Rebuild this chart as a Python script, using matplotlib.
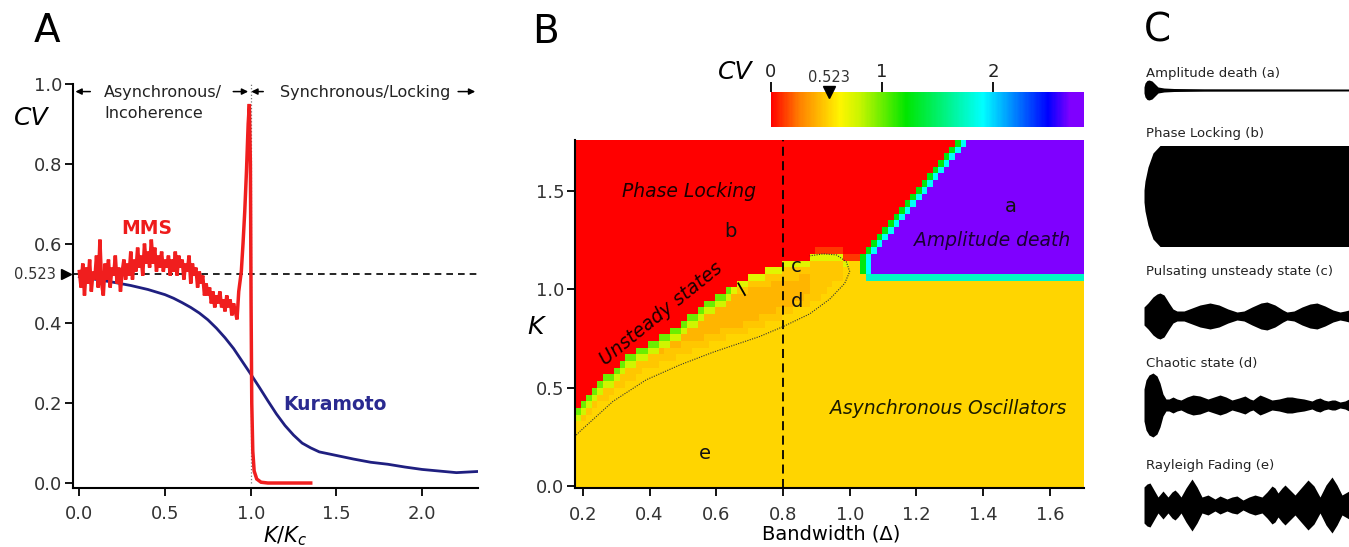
import numpy as np
import matplotlib
matplotlib.use('Agg')
import matplotlib.pyplot as plt
from matplotlib.colors import LinearSegmentedColormap, Normalize
from matplotlib.cm import ScalarMappable

plt.rcParams['font.family'] = ['DejaVu Sans']
plt.rcParams['mathtext.fontset'] = 'dejavusans'

W, H = 1349, 547

## Panel A data
mms_x = np.round(np.arange(0, 0.935, 0.01), 2).tolist() + [0.945, 0.955, 0.965, 0.975, 0.985, 0.992,
                                                          0.998, 1.002, 1.006, 1.012, 1.02, 1.035,
                                                          1.06, 1.1, 1.35]
mms_y = [0.53, 0.49, 0.55, 0.47, 0.54, 0.50, 0.56, 0.48, 0.53, 0.51,
         0.57, 0.49, 0.61, 0.50, 0.47, 0.55, 0.51, 0.56, 0.49, 0.54,
         0.52, 0.57, 0.50, 0.54, 0.48, 0.53, 0.56, 0.51, 0.55, 0.52,
         0.58, 0.51, 0.56, 0.53, 0.59, 0.54, 0.57, 0.52, 0.60, 0.55,
         0.58, 0.54, 0.61, 0.55, 0.59, 0.53, 0.57, 0.54, 0.58, 0.53,
         0.56, 0.54, 0.57, 0.52, 0.56, 0.53, 0.58, 0.52, 0.57, 0.54,
         0.56, 0.51, 0.55, 0.53, 0.57, 0.50, 0.55, 0.52, 0.54, 0.49,
         0.53, 0.50, 0.52, 0.47, 0.50, 0.47, 0.49, 0.45, 0.48, 0.44,
         0.47, 0.45, 0.48, 0.44, 0.46, 0.43, 0.47, 0.44, 0.46, 0.42,
         0.45, 0.43, 0.41, 0.48,
         0.53, 0.60, 0.68, 0.78, 0.90, 0.95, 0.80, 0.45, 0.20, 0.08,
         0.03, 0.01, 0.002, 0.0, 0.0]

kura_x = [0.0, 0.1, 0.2, 0.3, 0.4, 0.5, 0.55, 0.6, 0.65, 0.7, 0.75, 0.8, 0.85, 0.9,
          0.95, 1.0, 1.05, 1.1, 1.15, 1.2, 1.25, 1.3, 1.35, 1.4, 1.5, 1.6, 1.7, 1.8,
          1.9, 2.0, 2.1, 2.2, 2.33]
kura_y = [0.517, 0.51, 0.503, 0.495, 0.485, 0.472, 0.463, 0.452, 0.44, 0.426, 0.409,
          0.388, 0.364, 0.337, 0.305, 0.273, 0.24, 0.206, 0.173, 0.144, 0.12, 0.10,
          0.088, 0.078, 0.069, 0.06, 0.052, 0.047, 0.04, 0.034, 0.03, 0.026, 0.029]
cv_rayleigh = 0.523

lock_x = [0.175, 0.24, 0.34, 0.48, 0.59, 0.70, 0.80, 0.88, 0.95, 1.00, 1.045]
lock_k = [0.39, 0.51, 0.66, 0.81, 0.96, 1.06, 1.13, 1.165, 1.175, 1.15, 1.12]
death_bx = [1.045, 1.70]
death_bk = [1.09, 1.09]
diag_k = [1.08, 1.16, 1.76]
diag_x = [1.045, 1.045, 1.34]
ell_lo_x = [0.175, 0.19, 0.29, 0.39, 0.49, 0.59, 0.73, 0.80, 0.88, 0.94, 0.985, 1.0]
ell_lo_k = [0.25, 0.276, 0.43, 0.54, 0.615, 0.68, 0.76, 0.81, 0.875, 0.95, 1.03, 1.09]
ell_top_x = [1.0, 0.99, 0.96, 0.92, 0.88]
ell_top_k = [1.09, 1.14, 1.175, 1.18, 1.17]
core_x = [0.40, 0.50, 0.60, 0.70, 0.80, 0.88]
core_lo = [0.66, 0.72, 0.78, 0.84, 0.90, 0.98]
core_hi = [0.76, 0.86, 0.94, 1.00, 1.04, 1.08]
cv_lock, cv_band, cv_core, cv_death = 0.0, 0.48, 0.42, 2.82

cv_stops = [0.0, 0.26, 0.62, 0.80, 1.22, 1.91, 2.50, 2.70, 2.82]
cv_colors = ['#ff0000', '#ff8200', '#fff500', '#c8f500', '#00e600', '#00ffff',
             '#0000ff', '#7f00ff', '#7f00ff']

## Panel C envelopes (time, half amplitude)
a_t = [0, 1, 3, 5, 8, 11, 14, 20, 30, 60, 205]
a_amp = [3, 7, 9.5, 10, 9, 6, 3, 2, 1.5, 1.2, 1.0]
b_t = [0, 1, 4, 9, 16, 205]
b_amp = [6, 15, 29, 43, 50.5, 50.5]
c_t = [0, 4, 9, 13, 16, 20, 25, 29, 33, 40, 48, 56, 66, 75, 84, 93, 100, 108, 117,
       123, 131, 139, 143, 150, 158, 166, 173, 181, 189, 196, 201, 205]
c_amp = [9, 13, 19, 22, 23, 21, 13, 7, 5, 5, 8, 11, 13, 11, 7, 4, 5, 9, 13, 14, 11, 6,
         4, 5, 9, 12, 13, 10, 6, 4, 5, 6]
d_t = [0, 2, 5, 9, 13, 16, 19, 22, 25, 29, 33, 37, 43, 49, 56, 64, 70, 76, 82, 88, 95,
       101, 106, 109, 113, 116, 121, 128, 135, 143, 148, 153, 160, 168, 172, 176, 180,
       184, 188, 191, 196, 201, 205]
d_amp = [16, 25, 30, 32, 29, 22, 11, 6, 6, 8, 6, 5, 8, 10, 9, 6, 8, 10, 8, 5, 7, 9, 6,
         5, 8, 10, 8, 5, 6, 8, 8, 7, 6, 4, 6, 7, 5, 4, 5, 5, 3, 4, 6]
e_t = [0, 3, 6, 10, 14, 19, 24, 28, 31, 34, 37, 42, 48, 53, 58, 64, 71, 76, 83, 88, 93,
       99, 105, 111, 118, 123, 128, 131, 134, 138, 141, 146, 151, 157, 164, 170, 176,
       182, 188, 193, 198, 205]
e_amp = [18, 21, 22, 15, 8, 14, 8, 13, 15, 12, 8, 17, 26, 18, 8, 10, 6, 9, 6, 8, 9, 5,
         8, 10, 8, 13, 19, 17, 12, 17, 20, 15, 10, 17, 25, 19, 8, 20, 28, 20, 10, 14]
traces = [('Amplitude death (a)', a_t, a_amp),
          ('Phase Locking (b)', b_t, b_amp),
          ('Pulsating unsteady state (c)', c_t, c_amp),
          ('Chaotic state (d)', d_t, d_amp),
          ('Rayleigh Fading (e)', e_t, e_amp)]


def px_box(x0, y0, x1, y1):
    return [x0 / W, 1 - y1 / H, (x1 - x0) / W, (y1 - y0) / H]


def ftext(x, y, s, **kw):
    kw.setdefault('ha', 'center')
    kw.setdefault('va', 'center')
    fig.text(x / W, 1 - y / H, s, **kw)


def style_axis(ax):
    for side in ['top', 'right']:
        ax.spines[side].set_visible(False)
    for side in ['left', 'bottom']:
        ax.spines[side].set_linewidth(1.5)
    ax.tick_params(direction='out', length=5.5, width=1.3, labelsize=13,
                   labelcolor='#333333')
    ax.tick_params(axis='x', pad=7)
    ax.tick_params(axis='y', pad=2)


fig = plt.figure(figsize=(W / 100, H / 100), dpi=100)

## A
axA = fig.add_axes(px_box(73, 84, 478, 488))
axA.set_xlim(-0.037, 2.326)
axA.set_ylim(-0.0125, 1.0)
style_axis(axA)
axA.set_xticks([0, 0.5, 1.0, 1.5, 2.0])
axA.set_xticklabels(['0.0', '0.5', '1.0', '1.5', '2.0'])
axA.set_yticks([0, 0.2, 0.4, 0.6, 0.8, 1.0])
axA.set_yticklabels(['0.0', '0.2', '0.4', '0.6', '0.8', '1.0'])

axA.plot([1, 1], [0, 1], ls=':', color='#777777', lw=0.9)
axA.axhline(cv_rayleigh, ls=(0, (4, 3)), color='k', lw=1.2)
axA.plot(kura_x, kura_y, color='#1f1f80', lw=2)
axA.plot(mms_x, mms_y, color='#f01e1e', lw=2.5, solid_joinstyle='miter')
axA.plot(-0.076, cv_rayleigh, marker='>', color='k', ms=7, clip_on=False)
axA.text(-0.257, cv_rayleigh, '0.523', fontsize=10.5, color='#333333',
         ha='center', va='center', clip_on=False)
axA.text(0.394, 0.637, 'MMS', color='#ee1c1c', fontsize=13.5, fontweight='bold',
         ha='center', va='center')
axA.text(1.49, 0.198, 'Kuramoto', color='#2a2a90', fontsize=13.5, fontweight='bold',
         ha='center', va='center')

arrow_kw = dict(arrowstyle='-|>', color='k', lw=1.1, mutation_scale=9,
                shrinkA=0, shrinkB=0)
y_arr = 0.981
for tail, tip in [(0.064, -0.023), (0.898, 0.985), (1.073, 1.003), (2.21, 2.31)]:
    axA.annotate('', xy=(tip, y_arr), xytext=(tail, y_arr), arrowprops=arrow_kw,
                 annotation_clip=False)
ftext(104, 92, 'Asynchronous/', fontsize=11.5, ha='left', color='#222222')
ftext(104, 113, 'Incoherence', fontsize=11.5, ha='left', color='#222222')
ftext(280, 92, 'Synchronous/Locking', fontsize=11.5, ha='left', color='#222222')

ftext(31, 118, 'CV', fontsize=18, style='italic')
ftext(285, 536, r'$K/K_c$', fontsize=15)
ftext(47, 31, 'A', fontsize=28)

## B
cmap = LinearSegmentedColormap.from_list(
    'cvmap', [(s / cv_stops[-1], c) for s, c in zip(cv_stops, cv_colors)])

x_edges = np.linspace(0.1763, 1.7014, 92)
k_edges = np.linspace(-0.0117, 1.759, 53)
dx = x_edges[1] - x_edges[0]
dk = k_edges[1] - k_edges[0]
X, K = np.meshgrid(0.5 * (x_edges[1:] + x_edges[:-1]), 0.5 * (k_edges[1:] + k_edges[:-1]))

db = np.interp(X, death_bx, death_bk)
upper = np.where(X < death_bx[0], np.interp(X, lock_x, lock_k), db)
ell = np.interp(X, ell_lo_x, ell_lo_k)
cv = np.full(X.shape, cv_rayleigh)
cv[(X < 1.0) & (K > ell + 0.05)] = cv_band
core = ((X > core_x[0]) & (X < core_x[-1]) & (K > np.interp(X, core_x, core_lo))
        & (K < np.interp(X, core_x, core_hi)))
cv[core] = cv_core
strip1 = (K < upper) & (K >= upper - dk) & (X < 1.0)
strip2 = (K < upper - dk) & (K >= upper - 2 * dk) & (X < 1.0)
cv[strip1 & (X < 0.65)] = 1.0
cv[strip1 & (X >= 0.65)] = 0.72
cv[strip2 & (X < 0.65)] = 0.78
red = K >= upper
cv[red] = cv_lock
cv[red & (X > 0.9) & (X < 1.045) & (K < upper + dk)] = 0.12
diag = np.interp(K, diag_k, diag_x)
above = K >= db
cv[above & (X >= diag - dx) & (X < diag)] = 1.25
cv[above & (X >= diag) & (X < diag + dx)] = 1.9
cv[above & (X >= diag + dx)] = cv_death
cv[(X >= death_bx[0]) & (K < db) & (K >= db - dk)] = 1.75

axB = fig.add_axes(px_box(575, 140, 1083.6, 488.3))
axB.pcolormesh(x_edges, k_edges, cv, cmap=cmap, vmin=0, vmax=cv_stops[-1],
               shading='flat', rasterized=True)
axB.set_xlim(0.1763, 1.7014)
axB.set_ylim(-0.0117, 1.759)
style_axis(axB)
axB.set_xticks([0.2, 0.4, 0.6, 0.8, 1.0, 1.2, 1.4, 1.6])
axB.set_xticklabels(['0.2', '0.4', '0.6', '0.8', '1.0', '1.2', '1.4', '1.6'])
axB.set_yticks([0, 0.5, 1.0, 1.5])
axB.set_yticklabels(['0.0', '0.5', '1.0', '1.5'])

axB.axvline(0.8, ls=(0, (5, 3)), color='k', lw=1.3)
axB.plot(ell_lo_x + ell_top_x, ell_lo_k + ell_top_k, ls=(0, (1, 1.2)), color='#333333',
         lw=0.8)
axB.plot([0.666, 0.686], [1.03, 0.971], color='k', lw=1.3)

it = dict(style='italic', fontsize=13.5, ha='center', va='center', color='#1a0000')
axB.text(0.519, 1.496, 'Phase Locking', **it)
axB.text(1.428, 1.248, 'Amplitude death', **dict(it, color='#1a0033'))
axB.text(1.294, 0.392, 'Asynchronous Oscillators', **dict(it, color='#1a1a00'))
axB.text(0.435, 0.875, 'Unsteady states', rotation=39, **it)
lt = dict(fontsize=14, ha='center', va='center', color='#111111')
axB.text(1.483, 1.42, 'a', **lt)
axB.text(0.641, 1.293, 'b', **lt)
axB.text(0.841, 1.115, 'c', **lt)
axB.text(0.841, 0.937, 'd', **lt)
axB.text(0.565, 0.166, 'e', **lt)

ftext(536, 327, 'K', fontsize=18, style='italic')
ftext(831, 534, 'Bandwidth (Δ)', fontsize=14)
ftext(546, 32, 'B', fontsize=28)

cax = fig.add_axes(px_box(770.7, 91.7, 1084, 126.7))
cb = fig.colorbar(ScalarMappable(norm=Normalize(0, cv_stops[-1]), cmap=cmap), cax=cax,
                  orientation='horizontal', ticks=[0, 1, 2])
cb.outline.set_visible(False)
cax.xaxis.set_ticks_position('top')
cax.xaxis.set_label_position('top')
cax.tick_params(length=7, width=1.3, labelsize=13, pad=1, labelcolor='#222222')
cax.plot(cv_rayleigh, 1.0, marker='v', ms=8, color='k', clip_on=False)
cax.text(cv_rayleigh, 1.42, '0.523', fontsize=10.5, ha='center', va='center',
         color='#333333', clip_on=False)
ftext(735, 72, 'CV', fontsize=18, style='italic')

## C
ftext(1157, 31, 'C', fontsize=28)
title_y = [73, 134, 272, 363, 465]
center_y = [90, 196, 316, 405, 505]
for (title, t, amp), ty, cy in zip(traces, title_y, center_y):
    ftext(1146, ty, title, fontsize=9.5, ha='left', color='#222222')
    ax = fig.add_axes(px_box(1144, cy - 60, 1349, cy + 60))
    ax.fill_between(t, -np.array(amp), amp, color='k', lw=0)
    ax.set_xlim(0, 205)
    ax.set_ylim(-60, 60)
    ax.axis('off')

fig.savefig('out.png', dpi=100)
